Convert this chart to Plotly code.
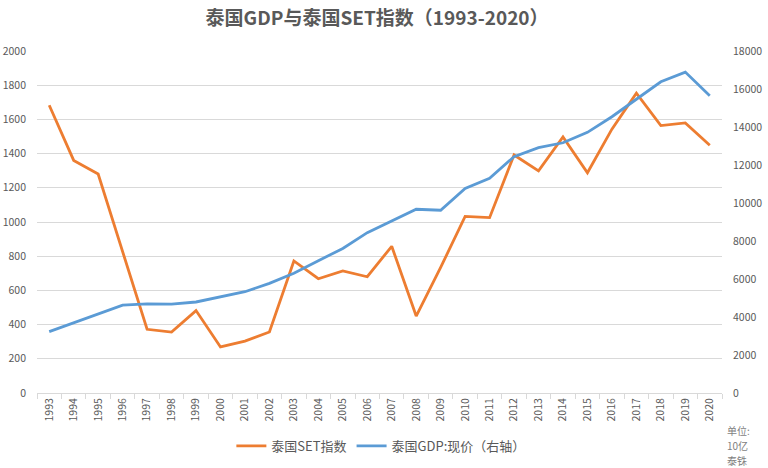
import plotly.graph_objects as go

years = [str(y) for y in range(1993, 2021)]

set_index = [1682.85, 1360.09, 1280.81, 831.57, 372.69, 355.81, 481.92, 269.19,
             303.85, 356.48, 772.15, 668.10, 713.73, 679.84, 858.10, 449.96,
             734.54, 1032.76, 1025.32, 1391.93, 1298.71, 1497.67, 1288.02,
             1542.94, 1753.71, 1563.88, 1579.84, 1449.35]

gdp = [3230, 3700, 4190, 4620, 4690, 4680, 4790, 5070, 5330, 5770, 6300, 6960,
       7610, 8440, 9050, 9670, 9620, 10770, 11300, 12440, 12910, 13170, 13720,
       14540, 15460, 16380, 16890, 15650]

unit_lines = ["单位:", "10亿", "泰铢"]

font = "Noto Sans CJK SC"
grey = "#595959"

fig = go.Figure()
fig.add_trace(go.Scatter(
    x=years, y=set_index, name="泰国SET指数", mode="lines",
    line=dict(color="#ED7D31", width=2.8)
))
fig.add_trace(go.Scatter(
    x=years, y=gdp, name="泰国GDP:现价（右轴）", mode="lines", yaxis="y2",
    line=dict(color="#5B9BD5", width=2.8)
))

fig.update_layout(
    width=768, height=468,
    margin=dict(l=37, r=46, t=51, b=75),
    paper_bgcolor="white", plot_bgcolor="white",
    font=dict(family=font, color=grey, size=11),
    title=dict(text="<b>泰国GDP与泰国SET指数（1993-2020）</b>", x=0.491, xanchor="center",
               y=0.961, yanchor="middle", font=dict(size=19, color=grey)),
    xaxis=dict(type="category", range=[-0.5, len(years) - 0.5], tickangle=-90,
               ticks="outside", tickson="boundaries", ticklen=5, tickcolor="#d9d9d9",
               showline=True, linecolor="#d9d9d9", showgrid=False,
               tickfont=dict(size=10.5), automargin=False),
    yaxis=dict(range=[0, 2000], dtick=200, showgrid=True, gridcolor="#d9d9d9",
               zeroline=False, ticklabelstandoff=10, tickfont=dict(size=10.5),
               automargin=False),
    yaxis2=dict(range=[0, 18000], dtick=2000, overlaying="y", side="right",
                showgrid=False, zeroline=False, ticklabelstandoff=10,
                tickformat="d", tickfont=dict(size=10.5), automargin=False),
    legend=dict(orientation="h", x=0.502, xanchor="center",
                yref="container", y=0.047, yanchor="middle",
                font=dict(size=13, color=grey), itemwidth=30),
    showlegend=True,
)

for i, txt in enumerate(unit_lines):
    fig.add_annotation(text=txt, xref="paper", yref="paper",
                       x=1.004, y=-0.111 - i * 0.043, xanchor="left", yanchor="middle",
                       align="left", showarrow=False,
                       font=dict(size=10, color="#7f7f7f"))

# drop the default 8px body margin so the 768x468 figure fills the window
fig.write_html("out.html", config={"displayModeBar": False},
               post_script="document.body.style.margin = '0';")
